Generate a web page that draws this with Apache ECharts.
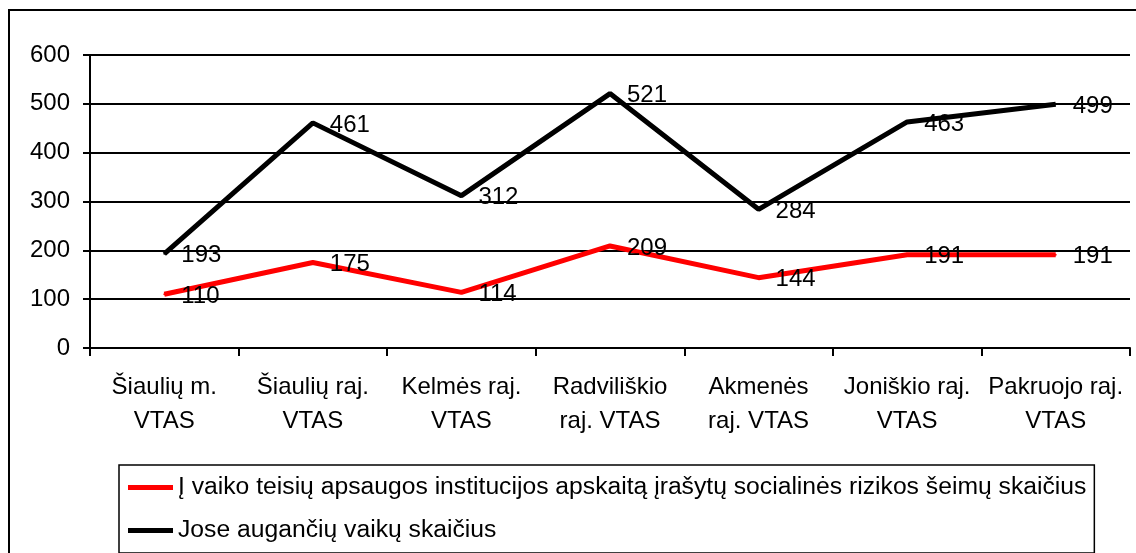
<!DOCTYPE html>
<html>
<head>
<meta charset="utf-8">
<script src="https://cdn.jsdelivr.net/npm/echarts@6/dist/echarts.min.js"></script>
<style>
html,body{margin:0;padding:0;background:#fff;}
#c{width:1136px;height:553px;}
</style>
</head>
<body>
<div id="c"></div>
<script>
const categories = ["Šiaulių m.\nVTAS","Šiaulių raj.\nVTAS","Kelmės raj.\nVTAS","Radviliškio\nraj. VTAS","Akmenės\nraj. VTAS","Joniškio raj.\nVTAS","Pakruojo raj.\nVTAS"];
const seriesNames = ["Į vaiko teisių apsaugos institucijos apskaitą įrašytų socialinės rizikos šeimų skaičius","Jose augančių vaikų skaičius"];
const familiesValues = [110,175,114,209,144,191,191];
const childrenValues = [193,461,312,521,284,463,499];
const yTicks = {min:0, max:600, interval:100};

const FONT = '"Liberation Sans", Arial, sans-serif';
const chart = echarts.init(document.getElementById('c'), null, {renderer:'canvas'});
const labelCfg = {show:true, position:'right', distance:16, color:'#000', fontSize:24, fontFamily:FONT, offset:[0,2]};
chart.setOption({
  animation:false,
  backgroundColor:'#fff',
  graphic:[{type:'rect', shape:{x:9,y:10,width:1140,height:560}, style:{fill:'none', stroke:'#000', lineWidth:2}, silent:true, z:-1}],
  grid:{left:90, right:6, top:55, bottom:205, containLabel:false},
  legend:{
    orient:'vertical', left:119, top:465, icon:'rect',
    borderColor:'#000', borderWidth:1.5, padding:[10,8,10,9],
    itemGap:18, itemWidth:45, itemHeight:5,
    textStyle:{fontSize:24.7, fontFamily:FONT, color:'#000', lineHeight:24},
    data:seriesNames
  },
  xAxis:{
    type:'category', data:categories, boundaryGap:true,
    axisLine:{lineStyle:{color:'#000', width:2}},
    axisTick:{show:true, length:8, lineStyle:{color:'#000', width:2}},
    axisLabel:{color:'#000', fontSize:24, fontFamily:FONT, lineHeight:34, margin:22, interval:0}
  },
  yAxis:{
    type:'value', min:yTicks.min, max:yTicks.max, interval:yTicks.interval,
    axisLine:{show:true, lineStyle:{color:'#000', width:2}},
    axisTick:{show:true, length:7, lineStyle:{color:'#000', width:2}},
    axisLabel:{color:'#000', fontSize:24, fontFamily:FONT, margin:20},
    splitLine:{lineStyle:{color:'#000', width:2}}
  },
  series:[
    {name:seriesNames[0], type:'line', data:familiesValues, symbol:'circle', symbolSize:2, showSymbol:true,
     lineStyle:{color:'#ff0000', width:5}, itemStyle:{color:'#ff0000'}, label:labelCfg, z:3},
    {name:seriesNames[1], type:'line', data:childrenValues, symbol:'circle', symbolSize:2, showSymbol:true,
     lineStyle:{color:'#000', width:5}, itemStyle:{color:'#000'}, label:labelCfg, z:2}
  ]
});
</script>
</body>
</html>
